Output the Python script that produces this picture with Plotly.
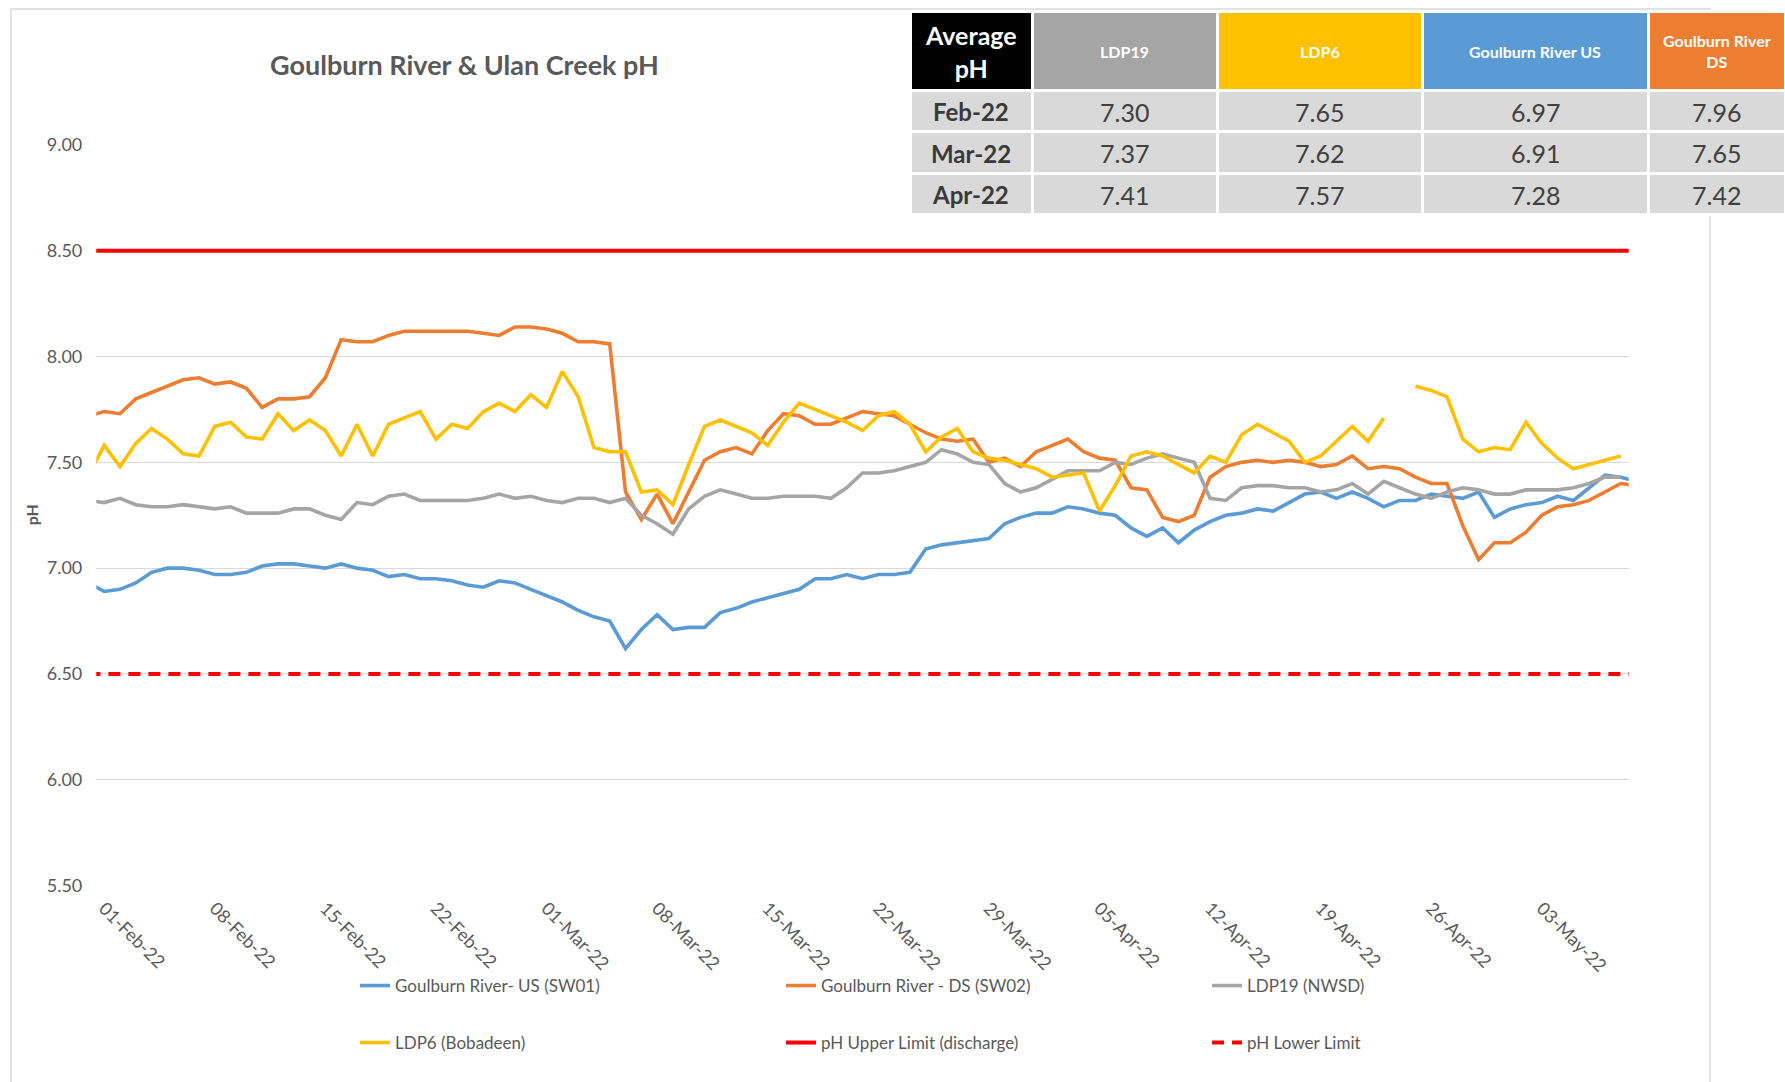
import pandas as pd
import plotly.graph_objects as go

# ---------------- data ----------------
dates = pd.date_range("2022-01-31", "2022-05-09", freq="D")

goulburn_us = [
    6.93, 6.89, 6.90, 6.93, 6.98, 7.00, 7.00, 6.99, 6.97, 6.97,
    6.98, 7.01, 7.02, 7.02, 7.01, 7.00, 7.02, 7.00, 6.99, 6.96,
    6.97, 6.95, 6.95, 6.94, 6.92, 6.91, 6.94, 6.93, 6.90, 6.87,
    6.84, 6.80, 6.77, 6.75, 6.62, 6.71, 6.78, 6.71, 6.72, 6.72,
    6.79, 6.81, 6.84, 6.86, 6.88, 6.90, 6.95, 6.95, 6.97, 6.95,
    6.97, 6.97, 6.98, 7.09, 7.11, 7.12, 7.13, 7.14, 7.21, 7.24,
    7.26, 7.26, 7.29, 7.28, 7.26, 7.25, 7.19, 7.15, 7.19, 7.12,
    7.18, 7.22, 7.25, 7.26, 7.28, 7.27, 7.31, 7.35, 7.36, 7.33,
    7.36, 7.33, 7.29, 7.32, 7.32, 7.35, 7.34, 7.33, 7.36, 7.24,
    7.28, 7.30, 7.31, 7.34, 7.32, 7.38, 7.44, 7.43, 7.41,
]
goulburn_ds = [
    7.72, 7.74, 7.73, 7.80, 7.83, 7.86, 7.89, 7.90, 7.87, 7.88,
    7.85, 7.76, 7.80, 7.80, 7.81, 7.90, 8.08, 8.07, 8.07, 8.10,
    8.12, 8.12, 8.12, 8.12, 8.12, 8.11, 8.10, 8.14, 8.14, 8.13,
    8.11, 8.07, 8.07, 8.06, 7.36, 7.23, 7.35, 7.21, 7.36, 7.51,
    7.55, 7.57, 7.54, 7.65, 7.73, 7.72, 7.68, 7.68, 7.71, 7.74,
    7.73, 7.72, 7.68, 7.64, 7.61, 7.60, 7.61, 7.50, 7.52, 7.48,
    7.55, 7.58, 7.61, 7.55, 7.52, 7.51, 7.38, 7.37, 7.24, 7.22,
    7.25, 7.43, 7.48, 7.50, 7.51, 7.50, 7.51, 7.50, 7.48, 7.49,
    7.53, 7.47, 7.48, 7.47, 7.43, 7.40, 7.40, 7.20, 7.04, 7.12,
    7.12, 7.17, 7.25, 7.29, 7.30, 7.32, 7.36, 7.40, 7.39,
]
ldp19 = [
    7.32, 7.31, 7.33, 7.30, 7.29, 7.29, 7.30, 7.29, 7.28, 7.29,
    7.26, 7.26, 7.26, 7.28, 7.28, 7.25, 7.23, 7.31, 7.30, 7.34,
    7.35, 7.32, 7.32, 7.32, 7.32, 7.33, 7.35, 7.33, 7.34, 7.32,
    7.31, 7.33, 7.33, 7.31, 7.33, 7.25, 7.21, 7.16, 7.28, 7.34,
    7.37, 7.35, 7.33, 7.33, 7.34, 7.34, 7.34, 7.33, 7.38, 7.45,
    7.45, 7.46, 7.48, 7.50, 7.56, 7.54, 7.50, 7.49, 7.40, 7.36,
    7.38, 7.42, 7.46, 7.46, 7.46, 7.50, 7.49, 7.52, 7.54, 7.52,
    7.50, 7.33, 7.32, 7.38, 7.39, 7.39, 7.38, 7.38, 7.36, 7.37,
    7.40, 7.35, 7.41, 7.38, 7.35, 7.33, 7.36, 7.38, 7.37, 7.35,
    7.35, 7.37, 7.37, 7.37, 7.38, 7.40, 7.43, 7.43, None,
]
ldp6 = [
    7.44, 7.58, 7.48, 7.59, 7.66, 7.61, 7.54, 7.53, 7.67, 7.69,
    7.62, 7.61, 7.73, 7.65, 7.70, 7.65, 7.53, 7.68, 7.53, 7.68,
    7.71, 7.74, 7.61, 7.68, 7.66, 7.74, 7.78, 7.74, 7.82, 7.76,
    7.93, 7.81, 7.57, 7.55, 7.55, 7.36, 7.37, 7.30, 7.49, 7.67,
    7.70, 7.67, 7.64, 7.58, 7.69, 7.78, 7.75, 7.72, 7.69, 7.65,
    7.72, 7.74, 7.68, 7.55, 7.62, 7.66, 7.55, 7.52, 7.51, 7.49,
    7.47, 7.43, 7.44, 7.45, 7.27, 7.39, 7.53, 7.55, 7.53, 7.49,
    7.45, 7.53, 7.50, 7.63, 7.68, 7.64, 7.60, 7.50, 7.53, 7.60,
    7.67, 7.60, 7.71, None, 7.86, 7.84, 7.81, 7.61, 7.55, 7.57,
    7.56, 7.69, 7.59, 7.52, 7.47, 7.49, 7.51, 7.53, None,
]
upper_limit_value = 8.5
lower_limit_value = 6.5
upper_limit = [upper_limit_value] * len(dates)
lower_limit = [lower_limit_value] * len(dates)

xtick_dates = ["2022-02-01", "2022-02-08", "2022-02-15", "2022-02-22", "2022-03-01",
               "2022-03-08", "2022-03-15", "2022-03-22", "2022-03-29", "2022-04-05",
               "2022-04-12", "2022-04-19", "2022-04-26", "2022-05-03"]
xtick_labels = ["01-Feb-22", "08-Feb-22", "15-Feb-22", "22-Feb-22", "01-Mar-22",
                "08-Mar-22", "15-Mar-22", "22-Mar-22", "29-Mar-22", "05-Apr-22",
                "12-Apr-22", "19-Apr-22", "26-Apr-22", "03-May-22"]
ytick_vals = [5.5, 6.0, 6.5, 7.0, 7.5, 8.0, 8.5, 9.0]

# summary table
table_months = ["Feb-22", "Mar-22", "Apr-22"]
table_headers = ["Average<br>pH", "LDP19", "LDP6", "Goulburn River US", "Goulburn River<br>DS"]
avg_ldp19 = [7.30, 7.37, 7.41]
avg_ldp6 = [7.65, 7.62, 7.57]
avg_us = [6.97, 6.91, 7.28]
avg_ds = [7.96, 7.65, 7.42]

# ---------------- layout constants ----------------
W, H = 1785, 1082
PL, PR, PT, PB = 96.3, 1628.7, 145.0, 885.5
FONT = "Lato"
GREY_TXT = "#595959"

def fx(px):
    return px / W

def fy(py):
    return 1 - py / H

fig = go.Figure()

series = [
    ("Goulburn River- US (SW01)", goulburn_us, "#5B9BD5", "solid", 3.6, "legend"),
    ("Goulburn River - DS (SW02)", goulburn_ds, "#ED7D31", "solid", 3.6, "legend"),
    ("LDP19 (NWSD)", ldp19, "#A5A5A5", "solid", 3.6, "legend"),
    ("LDP6 (Bobadeen)", ldp6, "#FFC000", "solid", 3.6, "legend2"),
    ("pH Upper Limit (discharge)", upper_limit, "#FF0000", "solid", 4, "legend2"),
    ("pH Lower Limit", lower_limit, "#FF0000", "12px,8px", 4, "legend2"),
]
for name, vals, col, dash, w, leg in series:
    fig.add_trace(go.Scatter(
        x=dates, y=vals, name=name, mode="lines",
        line=dict(color=col, width=w, dash=dash),
        connectgaps=False, legend=leg,
    ))

# ---------------- summary table (cells by go.Table, text as annotations) ----------------
TBL_X0, TBL_TOP = 910, 11
col_widths = [122, 185, 205, 226, 137]
header_h, row_h = 79, 41.5
header_fill = ["#000000", "#A5A5A5", "#FFC000", "#5B9BD5", "#ED7D31"]
table_cols = [table_months, avg_ldp19, avg_ldp6, avg_us, avg_ds]

fig.add_trace(go.Table(
    domain=dict(x=[fx(TBL_X0), 1.0], y=[fy(TBL_TOP + header_h + 3 * row_h + 6), fy(TBL_TOP)]),
    columnwidth=col_widths,
    header=dict(
        values=["" for _ in table_headers],
        fill_color=header_fill,
        line=dict(color="white", width=3),
        height=header_h,
        font=dict(size=8),
    ),
    cells=dict(
        values=[["" for _ in table_months] for _ in table_cols],
        fill_color="#D9D9D9",
        line=dict(color="white", width=3),
        height=row_h,
        font=dict(size=8),
    ),
))

annotations = []
col_centers = []
acc = TBL_X0
for wdt in col_widths:
    col_centers.append(acc + wdt / 2)
    acc += wdt

for i, h in enumerate(table_headers):
    size = 25 if i == 0 else 16
    annotations.append(dict(
        text=f"<b>{h}</b>", x=fx(col_centers[i]), y=fy(TBL_TOP + header_h / 2 + 1),
        xref="paper", yref="paper", xanchor="center", yanchor="middle", align="center",
        showarrow=False, font=dict(family=FONT, size=size, color="white")))

for j in range(len(table_months)):
    ycen = TBL_TOP + header_h + row_h * j + row_h / 2 + 1
    for i, col in enumerate(table_cols):
        if i == 0:
            txt, size, colr = f"<b>{col[j]}</b>", 24, "#3A3838"
        else:
            txt, size, colr = f"{col[j]:.2f}", 25, "#404040"
        annotations.append(dict(
            text=txt, x=fx(col_centers[i]), y=fy(ycen),
            xref="paper", yref="paper", xanchor="center", yanchor="middle",
            showarrow=False, font=dict(family=FONT, size=size, color=colr)))

annotations += [
    dict(text="<b>Goulburn River &amp; Ulan Creek pH</b>", x=fx(464), y=fy(65),
         xref="paper", yref="paper", xanchor="center", yanchor="middle",
         showarrow=False, font=dict(family=FONT, size=27, color=GREY_TXT)),
    dict(text="<b>pH</b>", x=fx(31), y=fy((PT + PB) / 2), textangle=-90,
         xref="paper", yref="paper", xanchor="center", yanchor="middle",
         showarrow=False, font=dict(family=FONT, size=16, color=GREY_TXT)),
]

fig.update_layout(
    template="none",
    width=W, height=H,
    margin=dict(l=0, r=0, t=0, b=0, pad=0),
    paper_bgcolor="white", plot_bgcolor="white",
    font=dict(family=FONT, color=GREY_TXT),
    xaxis=dict(
        domain=[fx(PL), fx(PR)],
        type="date",
        range=["2022-01-31 12:00", "2022-05-08 12:00"],
        tickvals=xtick_dates, ticktext=xtick_labels,
        tickangle=45, ticks="", showgrid=False, zeroline=False, showline=False,
        tickfont=dict(family=FONT, size=18, color=GREY_TXT),
        ticklabelstandoff=8, automargin=False,
    ),
    yaxis=dict(
        domain=[fy(PB), fy(PT)],
        range=[5.5, 9.0],
        tickvals=ytick_vals, tickformat=".2f",
        ticks="", showgrid=True, gridcolor="#D9D9D9", gridwidth=1.3,
        zeroline=False, showline=False,
        tickfont=dict(family=FONT, size=18, color=GREY_TXT),
        ticklabelstandoff=13, automargin=False,
    ),
    legend=dict(
        orientation="h", x=fx(355), y=fy(986), xanchor="left", yanchor="middle",
        entrywidth=381, entrywidthmode="pixels",
        font=dict(family=FONT, size=17, color=GREY_TXT),
        bgcolor="rgba(0,0,0,0)", borderwidth=0,
    ),
    legend2=dict(
        orientation="h", x=fx(355), y=fy(1043), xanchor="left", yanchor="middle",
        entrywidth=381, entrywidthmode="pixels",
        font=dict(family=FONT, size=17, color=GREY_TXT),
        bgcolor="rgba(0,0,0,0)", borderwidth=0,
    ),
    showlegend=True,
    annotations=annotations,
    shapes=[
        dict(type="rect", xref="paper", yref="paper", x0=fx(11), x1=fx(1710),
             y0=-0.05, y1=fy(9), line=dict(color="#D9D9D9", width=1.5),
             fillcolor="rgba(0,0,0,0)", layer="below"),
    ],
)

fig.write_html("out.html", config={"displayModeBar": False},
               post_script="document.body.style.margin='0';document.body.style.overflow='hidden';")
